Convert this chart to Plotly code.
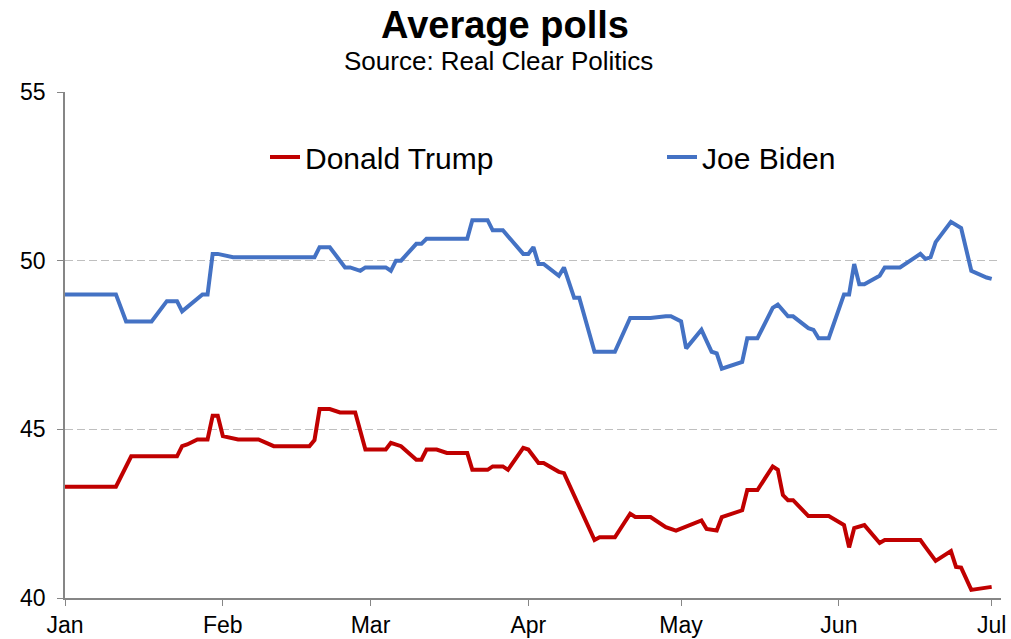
import plotly.graph_objects as go
from datetime import date, timedelta

start = date(2020, 1, 1)

biden_days = [0, 10, 12, 17, 20, 22, 23, 27, 28, 29, 30, 33, 49, 50, 52, 55, 56, 58, 59, 63,
              64, 65, 66, 69, 70, 71, 79, 80, 83, 84, 86, 90, 91, 92, 93, 94, 97, 98, 100, 101,
              104, 108, 111, 115, 118, 119, 121, 122, 125, 127, 128, 129, 133, 134, 136, 139, 140, 142, 143, 146,
              147, 148, 150, 153, 154, 155, 156, 157, 160, 161, 164, 168, 169, 170, 171, 174, 176, 178, 181, 182]
biden_vals = [49.0, 49.0, 48.2, 48.2, 48.8, 48.8, 48.5, 49.0, 49.0, 50.2, 50.2, 50.1, 50.1, 50.4, 50.4, 49.8, 49.8, 49.7, 49.8, 49.8,
              49.7, 50.0, 50.0, 50.5, 50.5, 50.65, 50.65, 51.2, 51.2, 50.9, 50.9, 50.2, 50.2, 50.4, 49.9, 49.9, 49.55, 49.8, 48.9, 48.9,
              47.3, 47.3, 48.3, 48.3, 48.35, 48.35, 48.2, 47.4, 47.95, 47.3, 47.25, 46.8, 47.0, 47.7, 47.7, 48.6, 48.7, 48.35, 48.35, 48.0,
              47.95, 47.7, 47.7, 49.0, 49.0, 49.9, 49.3, 49.3, 49.55, 49.8, 49.8, 50.2, 50.05, 50.1, 50.55, 51.15, 50.97, 49.7, 49.5, 49.46]

trump_days = [0, 10, 13, 22, 23, 24, 26, 28, 29, 30, 31, 34, 38, 41, 48, 49, 50, 52, 54, 57,
              59, 63, 64, 66, 69, 70, 71, 73, 75, 79, 80, 83, 84, 86, 87, 90, 91, 93, 94, 97,
              98, 104, 105, 108, 111, 112, 115, 118, 120, 125, 126, 128, 129, 133, 134, 136, 139, 140, 141, 142,
              143, 146, 150, 153, 154, 155, 157, 160, 161, 168, 169, 171, 174, 175, 176, 178, 182]
trump_vals = [43.3, 43.3, 44.2, 44.2, 44.5, 44.55, 44.7, 44.7, 45.4, 45.4, 44.8, 44.7, 44.7, 44.5, 44.5, 44.68, 45.6, 45.6, 45.5, 45.5,
              44.4, 44.4, 44.6, 44.5, 44.1, 44.1, 44.4, 44.4, 44.3, 44.3, 43.8, 43.8, 43.9, 43.9, 43.8, 44.45, 44.4, 44.0, 44.0, 43.74,
              43.7, 41.72, 41.8, 41.8, 42.5, 42.4, 42.4, 42.1, 42.0, 42.3, 42.05, 42.0, 42.4, 42.6, 43.2, 43.2, 43.9, 43.8, 43.05, 42.9,
              42.9, 42.43, 42.43, 42.16, 41.5, 42.07, 42.16, 41.63, 41.72, 41.72, 41.51, 41.1, 41.39, 40.92, 40.9, 40.24, 40.33]

y_ticks = [40, 45, 50, 55]
series_names = ["Donald Trump", "Joe Biden"]
colors = ["#C00000", "#4472C4"]

def to_dates(days):
    return [(start + timedelta(days=d)).isoformat() for d in days]

fig = go.Figure()
fig.add_trace(go.Scatter(x=to_dates(trump_days), y=trump_vals, mode="lines", name=series_names[0],
                         line=dict(color=colors[0], width=4), legend="legend"))
fig.add_trace(go.Scatter(x=to_dates(biden_days), y=biden_vals, mode="lines", name=series_names[1],
                         line=dict(color=colors[1], width=4), legend="legend2"))

font_family = "Liberation Sans, Arial, sans-serif"

W, H = 1011, 639
L, T = 65, 92
PLOT_RIGHT, PLOT_BOTTOM = 1001, 598
R, B = W - PLOT_RIGHT, H - PLOT_BOTTOM
PW, PH = W - L - R, H - T - B

def px_x(sx):
    return (sx - L) / PW

def px_y(sy):
    return (PLOT_BOTTOM - sy) / PH

legend_common = dict(orientation="h", xanchor="left", yanchor="middle", y=px_y(157),
                     font=dict(size=30, family=font_family, color="#000000"),
                     bgcolor="rgba(0,0,0,0)", borderwidth=0)

fig.update_layout(
    width=W, height=H,
    margin=dict(l=L, r=R, t=T, b=B, autoexpand=False),
    paper_bgcolor="white", plot_bgcolor="white",
    font=dict(family=font_family, color="#000000"),
    title=dict(text="<b>Average polls</b>", x=505 / W, xref="container", xanchor="center",
               y=1 - 25 / H, yref="container", yanchor="middle",
               font=dict(size=38, family=font_family, color="#000000")),
    annotations=[dict(text="Source: Real Clear Politics", xref="paper", yref="paper",
                      x=px_x(498), y=px_y(61), xanchor="center", yanchor="middle",
                      showarrow=False, font=dict(size=26, family=font_family, color="#000000"))],
    showlegend=True,
    legend=dict(x=px_x(265), **legend_common),
    legend2=dict(x=px_x(662), **legend_common),
    xaxis=dict(type="date", range=["2020-01-01", "2020-07-02 20:00"],
               tickmode="linear", tick0="2020-01-01", dtick="M1", tickformat="%b",
               showgrid=False, showline=True, linecolor="#868686", linewidth=1.5,
               ticks="outside", ticklen=6, tickcolor="#868686",
               tickfont=dict(size=23, family=font_family, color="#000000"),
               ticklabeloverflow="allow",
               zeroline=False, fixedrange=True, automargin=False),
    yaxis=dict(range=[40, 55], tickvals=y_ticks, showgrid=True, gridcolor="#BFBFBF", griddash="8px,4px",
               gridwidth=1, showline=True, linecolor="#868686", linewidth=1.5,
               ticks="outside", ticklen=6, tickcolor="#868686", ticklabelstandoff=7,
               tickfont=dict(size=23, family=font_family, color="#000000"),
               zeroline=False, fixedrange=True, automargin=False),
)

post = ("document.body.style.margin='0';document.body.style.padding='0';"
        "document.documentElement.style.overflow='hidden';document.body.style.overflow='hidden';")

fig.write_html("out.html", config={"displayModeBar": False}, post_script=post)
